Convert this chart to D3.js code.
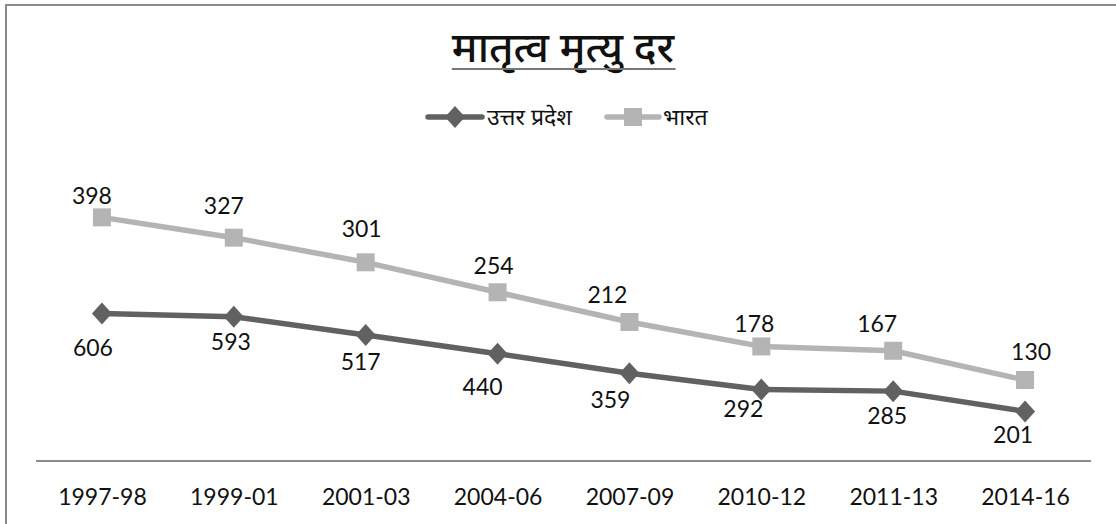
<!DOCTYPE html>
<html>
<head>
<meta charset="utf-8">
<script src="https://cdn.jsdelivr.net/npm/d3@7"></script>
<style>
  html, body { margin: 0; padding: 0; background: #fff; }
  svg { display: block; }
</style>
</head>
<body>
<svg id="chart" width="1116" height="524"></svg>
<script>
// ---- data ----
const categories = ["1997-98", "1999-01", "2001-03", "2004-06", "2007-09", "2010-12", "2011-13", "2014-16"];
const upValues = [606, 593, 517, 440, 359, 292, 285, 201];      // उत्तर प्रदेश
const indiaValues = [398, 327, 301, 254, 212, 178, 167, 130];   // भारत (stacked on UP)
const seriesNames = ["उत्तर प्रदेश", "भारत"];
const titleText = "मातृत्व मृत्यु दर";
// manual data-label offsets (as placed in the original)
const upLabelOffsets = [[-9, 34], [-3, 25], [-5, 27], [-15, 33], [-19, 27], [-18, 20], [-6, 25], [-12, 24]];
const indiaLabelOffsets = [[-10, -21], [-10, -32], [-4, -33], [-4, -26], [-22, -27], [-7, -22], [-16, -27], [6, -28]];

const W = 1116, H = 524;
const svg = d3.select("#chart");
const FONT = "Lato, 'Liberation Sans', sans-serif";
const DEV = "'Noto Sans Devanagari', 'Noto Sans', 'Lohit Devanagari', sans-serif";
const upColor = "#616161", inColor = "#b4b4b4";

// border
svg.append("rect").attr("x", 6).attr("y", 5).attr("width", 1300).attr("height", 700)
  .attr("fill", "none").attr("stroke", "#8a8a8a").attr("stroke-width", 2);

const x = d3.scalePoint().domain(categories).range([36, 1091]).padding(0.5);
const y = d3.scaleLinear().domain([0, 1200]).range([460, 170]);

const upData = categories.map((c, i) => ({c, v: upValues[i], s: upValues[i], off: upLabelOffsets[i]}));
const inData = categories.map((c, i) => ({c, v: indiaValues[i], s: upValues[i] + indiaValues[i], off: indiaLabelOffsets[i]}));

// x axis
const xAxis = d3.axisBottom(x).tickSize(0).tickPadding(0);
const gx = svg.append("g").attr("transform", `translate(0,${y(0) + 1})`).call(xAxis);
gx.select(".domain").attr("stroke", "#8c8c8c").attr("stroke-width", 2).attr("d", "M36,0H1091");
gx.selectAll("text").attr("font-family", FONT).attr("font-size", 23).attr("fill", "#111")
  .attr("dy", "0.35em").attr("y", 36);

const line = d3.line().x(d => x(d.c)).y(d => y(d.s));

// India series (stacked)
svg.append("path").datum(inData).attr("d", line).attr("fill", "none")
  .attr("stroke", inColor).attr("stroke-width", 5.5).attr("stroke-linejoin", "round");
svg.append("path").datum(upData).attr("d", line).attr("fill", "none")
  .attr("stroke", upColor).attr("stroke-width", 5.5).attr("stroke-linejoin", "round");

const sq = 18;
svg.selectAll("rect.in").data(inData).join("rect").attr("class", "in")
  .attr("x", d => x(d.c) - sq / 2).attr("y", d => y(d.s) - sq / 2)
  .attr("width", sq).attr("height", sq).attr("fill", inColor);

const diamond = "M0,-11L10,0L0,11L-10,0Z";
svg.selectAll("path.up").data(upData).join("path").attr("class", "up")
  .attr("d", diamond).attr("transform", d => `translate(${x(d.c)},${y(d.s)})`).attr("fill", upColor);

// labels
function labels(data) {
  svg.append("g").selectAll("text").data(data).join("text")
    .attr("x", d => x(d.c) + d.off[0]).attr("y", d => y(d.s) + d.off[1])
    .attr("dy", "0.35em").attr("text-anchor", "middle")
    .attr("font-family", FONT).attr("font-size", 23).attr("fill", "#111")
    .text(d => d.v);
}
labels(inData);
labels(upData);

// title
const t = svg.append("text").attr("x", 563).attr("y", 62).attr("text-anchor", "middle")
  .attr("font-family", DEV).attr("font-size", 42).attr("font-weight", 500).attr("fill", "#111")
  .text(titleText);
const tb = t.node().getBBox();
svg.append("line").attr("x1", tb.x).attr("x2", tb.x + tb.width).attr("y1", 69).attr("y2", 69)
  .attr("stroke", "#777").attr("stroke-width", 2);

// legend
const lg = svg.append("g");
lg.append("line").attr("x1", 428).attr("x2", 482).attr("y1", 117).attr("y2", 117)
  .attr("stroke", upColor).attr("stroke-width", 5.5).attr("stroke-linecap", "round");
lg.append("path").attr("d", diamond).attr("transform", "translate(455,117)").attr("fill", upColor);
lg.append("text").attr("x", 487).attr("y", 117).attr("dy", "0.35em")
  .attr("font-family", DEV).attr("font-size", 23).attr("fill", "#111").text(seriesNames[0]);
lg.append("line").attr("x1", 607).attr("x2", 659).attr("y1", 117).attr("y2", 117)
  .attr("stroke", inColor).attr("stroke-width", 5.5).attr("stroke-linecap", "round");
lg.append("rect").attr("x", 624).attr("y", 108).attr("width", sq).attr("height", sq).attr("fill", inColor);
lg.append("text").attr("x", 663).attr("y", 117).attr("dy", "0.35em")
  .attr("font-family", DEV).attr("font-size", 23).attr("fill", "#111").text(seriesNames[1]);
</script>
</body>
</html>
